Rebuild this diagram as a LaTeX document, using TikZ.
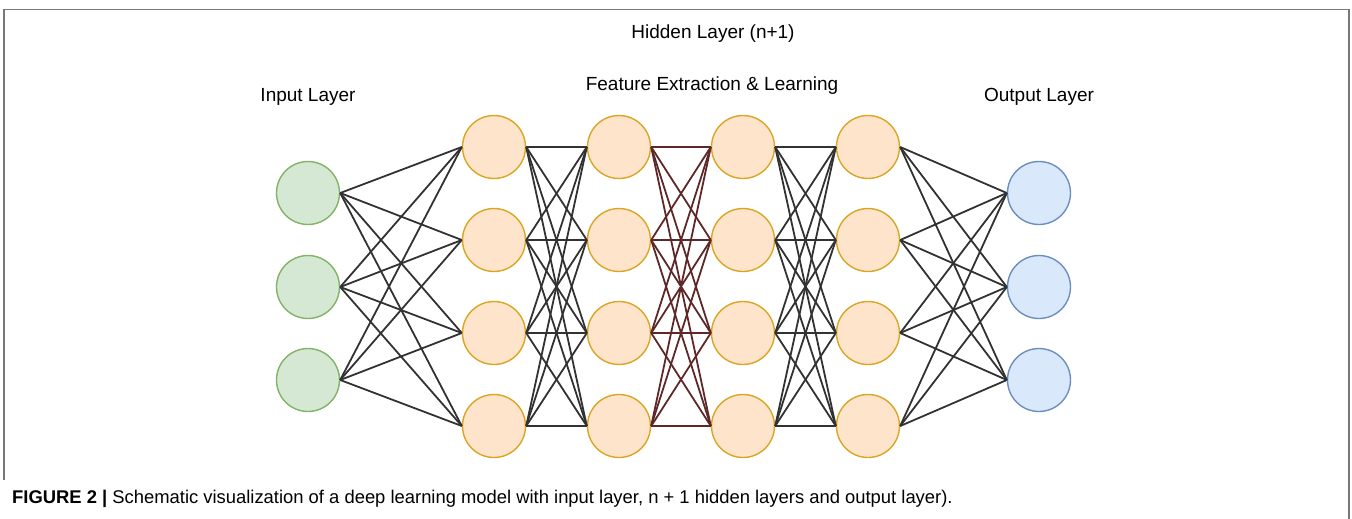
\documentclass[tikz,border=0pt]{standalone}
\usepackage{fontspec}
\setmainfont{Liberation Sans}
\begin{document}
\begin{tikzpicture}[x=1pt,y=-1pt,
  neuron/.style={circle,minimum size=63pt,inner sep=0pt,line width=1.4pt},
  innode/.style={neuron,draw={rgb,255:red,130;green,179;blue,102},fill={rgb,255:red,213;green,232;blue,212}},
  hidnode/.style={neuron,draw={rgb,255:red,218;green,165;blue,35},fill={rgb,255:red,255;green,228;blue,204}},
  outnode/.style={neuron,draw={rgb,255:red,108;green,142;blue,191},fill={rgb,255:red,218;green,232;blue,252}},
  link/.style={line width=1.8pt,draw={rgb,255:red,50;green,50;blue,50}},
  redlink/.style={line width=1.8pt,draw={rgb,255:red,95;green,40;blue,40}},
  label/.style={anchor=base,font=\fontsize{19}{22}\selectfont,inner sep=0pt},
  frame/.style={line width=1.5pt,draw={rgb,255:red,120;green,120;blue,120}}]
\useasboundingbox (0,0) rectangle (1352,519);

% outer frame
\draw[frame] (4,480) -- (4,9.5) -- (1349,9.5) -- (1349,519);

% neurons
\foreach \j/\y in {1/193,2/287,3/380} {
  \node[innode] (i\j) at (308,\y) {};
  \node[outnode] (o\j) at (1039,\y) {};
}
\foreach \l/\x in {1/494,2/619,3/743,4/868} {
  \foreach \j/\y in {1/147,2/240,3/333,4/426} {
    \node[hidnode] (h\l\j) at (\x,\y) {};
  }
}

% connections
\foreach \a in {1,2,3} \foreach \b in {1,2,3,4}
  \draw[link] (i\a.east) -- (h1\b.west);
\foreach \a in {1,2,3,4} \foreach \b in {1,2,3,4} {
  \draw[link] (h1\a.east) -- (h2\b.west);
  \draw[redlink] (h2\a.east) -- (h3\b.west);
  \draw[link] (h3\a.east) -- (h4\b.west);
}
\foreach \a in {1,2,3,4} \foreach \b in {1,2,3}
  \draw[link] (h4\a.east) -- (o\b.west);

% layer titles
\node[label] (tHidden) at (713,39) {Hidden Layer (n+1)};
\node[label] (tFeat) at (712,91) {Feature Extraction \& Learning};
\node[label] (tIn) at (308,102) {Input Layer};
\node[label] (tOut) at (1039,102) {Output Layer};

% caption
\node[anchor=base west,inner sep=0pt,font=\fontsize{18.4}{21}\selectfont] (cap) at (12,503)
  {\textbf{FIGURE 2 |} Schematic visualization of a deep learning model with input layer, n + 1 hidden layers and output layer).};
\end{tikzpicture}
\end{document}
